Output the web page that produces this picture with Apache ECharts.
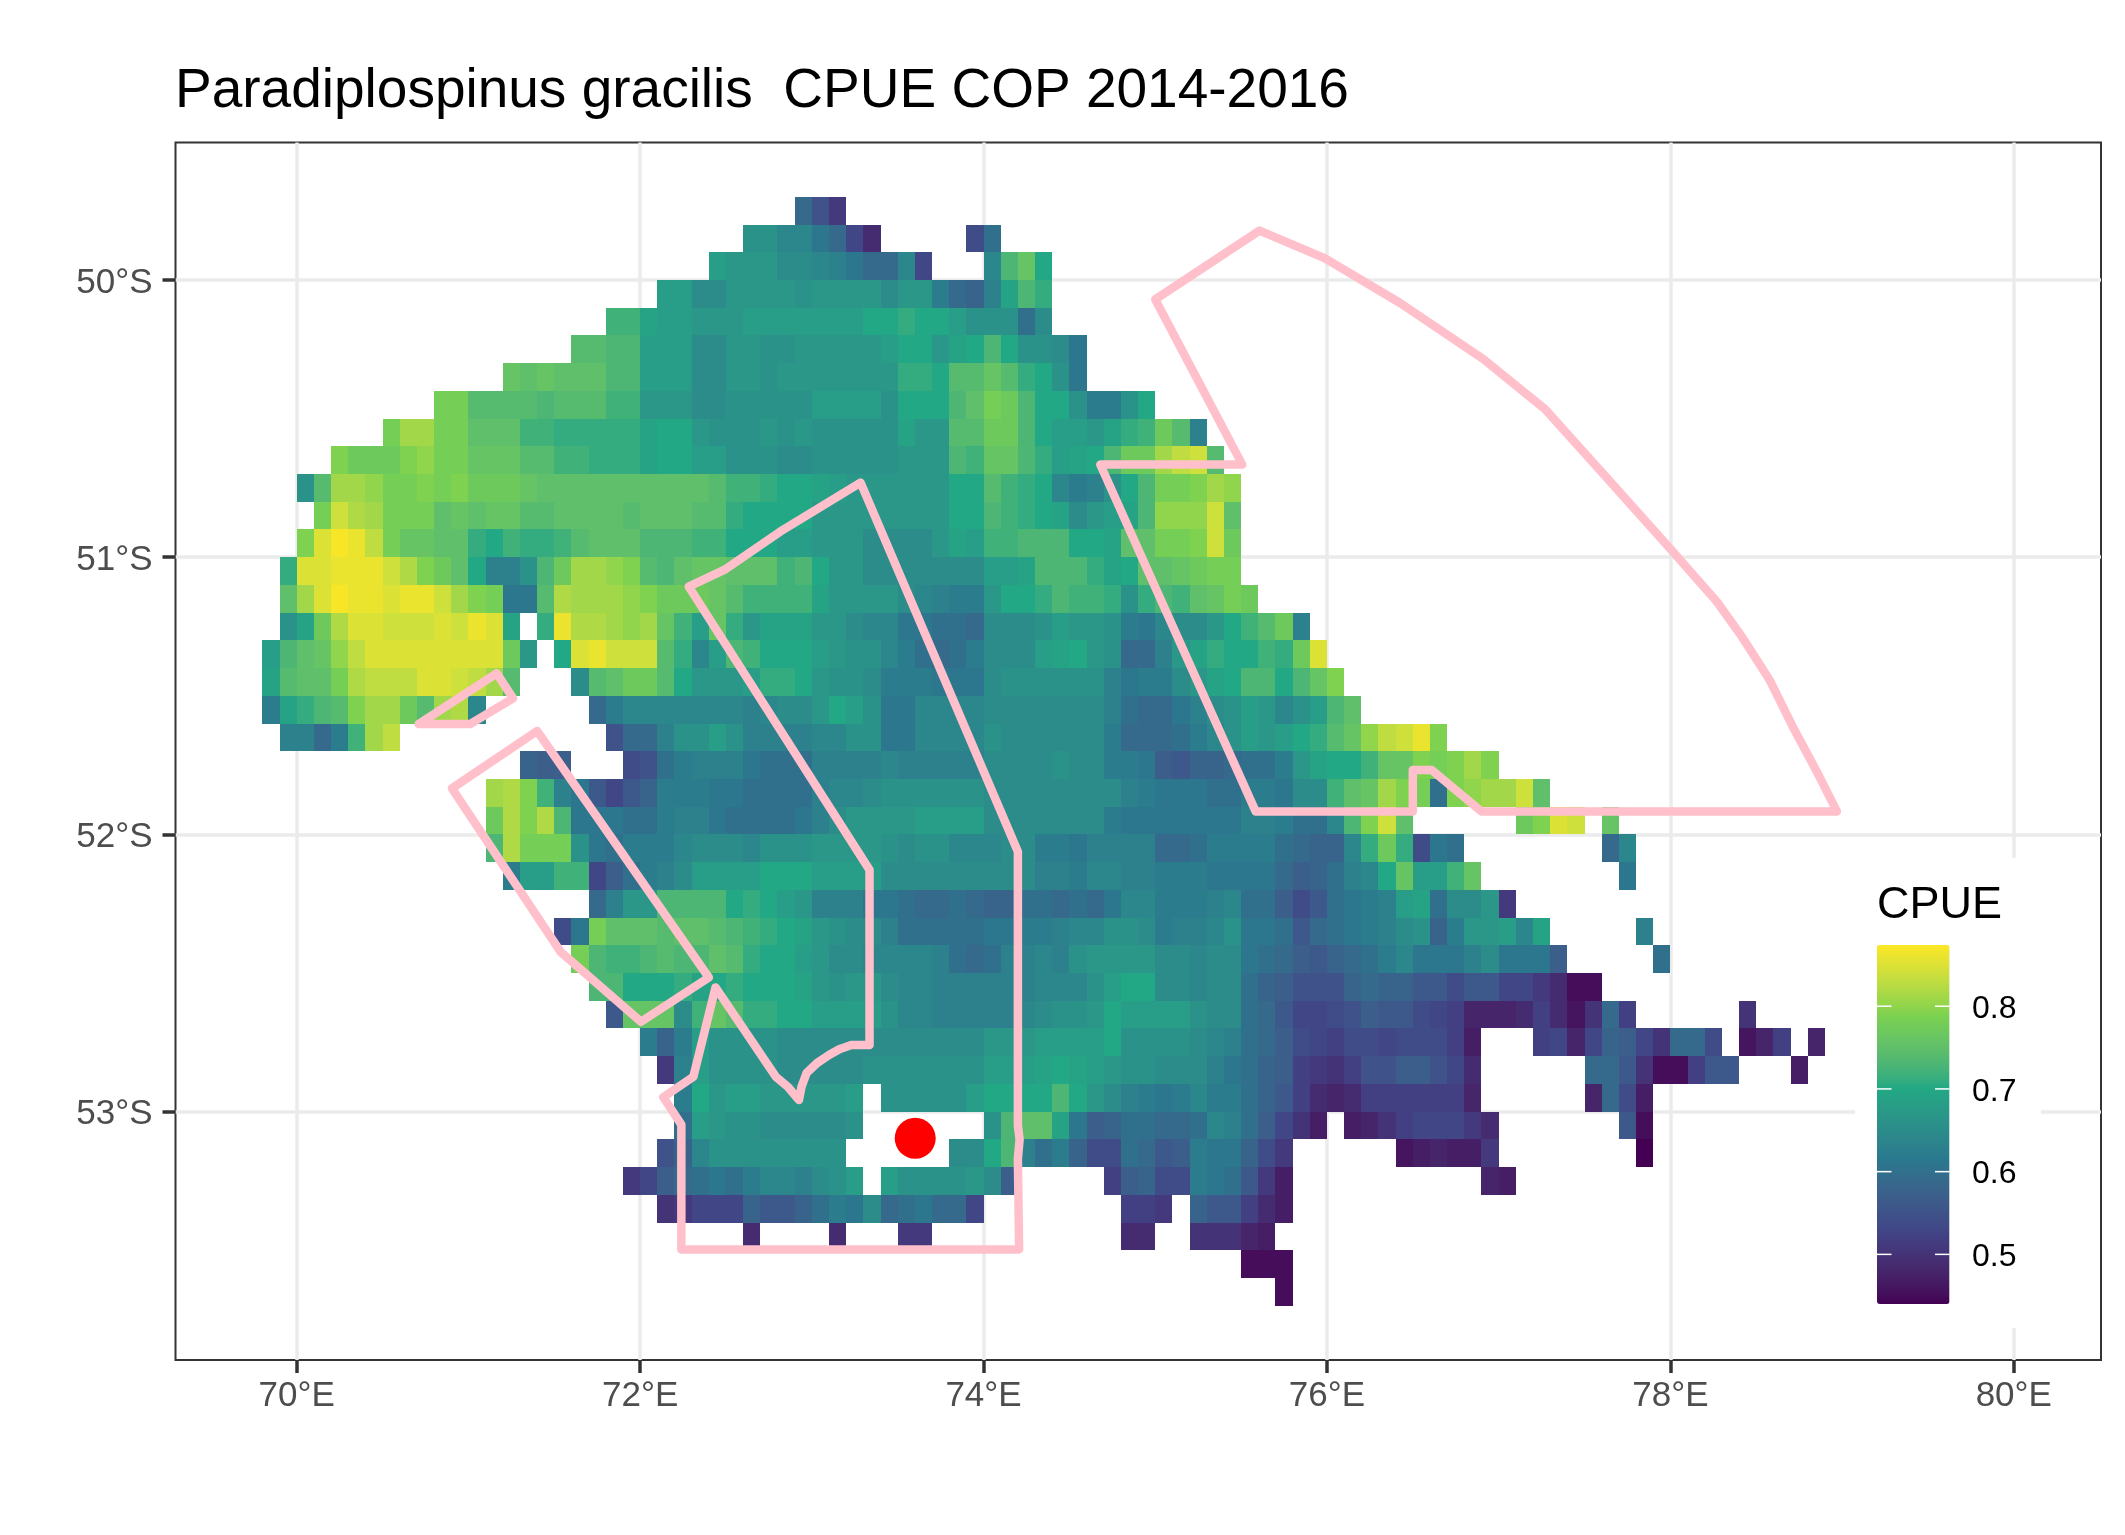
<!DOCTYPE html>
<html>
<head>
	<meta charset="utf-8">
	<title>CPUE COP 2014-2016</title>
	<style>
		html, body { margin: 0; background: #fff; }
		#chart1 { width: 2125px; height: 1535px; }
	</style>
</head>

<body>
	<div id="chart1"></div>

	<script src="https://cdn.jsdelivr.net/npm/echarts@6/dist/echarts.min.js"></script>
	<script>
	var _ = null;

	var lonOrigin = 69.8;
	var latOrigin = -49.7;
	var cellSize = 0.1;

	// first column of each row
	var rowStart = [31,28,26,23,20,18,14,10,7,4,2,3,2,1,1,1,0,0,0,1,15,13,13,13,14,19,17,18,19,20,22,23,24,24,23,21,23,28,57,59];

	// CPUE x 100, null where nothing was drawn
	var rowValues = [
		[59,55,51],
		[66,66,64,64,61,59,53,49,_,_,_,_,_,54,60],
		[68,67,67,67,65,65,64,63,61,59,59,64,53,_,_,_,64,73,76,70],
		[68,68,65,65,67,67,67,67,66,67,67,67,67,65,67,67,62,59,58,63,69,73,71],
		[72,72,69,68,68,67,67,67,68,68,68,68,68,68,68,70,70,71,70,70,68,66,66,66,60,65],
		[74,74,73,73,68,68,68,65,65,67,67,66,66,67,67,67,67,67,68,70,70,67,69,70,73,70,66,66,65,61],
		[76,75,76,75,75,75,73,73,68,68,68,65,65,67,67,66,67,67,67,67,67,67,67,71,71,70,74,74,76,74,71,70,66,61],
		[78,78,74,74,74,74,73,74,74,74,72,72,67,67,67,65,65,66,66,66,66,66,68,68,68,68,66,70,70,70,73,75,78,77,73,70,70,66,62,62,66,70],
		[78,81,81,78,78,75,75,75,72,72,71,71,71,71,71,69,70,70,67,66,66,66,67,66,67,66,66,66,66,66,69,67,67,74,74,77,77,73,70,68,68,67,69,71,72,77,74,63],
		[79,77,77,77,79,80,78,78,76,76,76,74,74,72,72,71,71,71,69,70,70,68,68,66,66,66,65,65,66,66,66,66,66,67,67,67,73,72,76,76,73,71,68,69,70,73,77,77,81,83,84,74],
		[66,74,81,81,80,78,78,79,78,79,77,77,77,76,75,75,75,75,75,75,75,75,75,75,74,72,72,71,70,70,69,68,67,67,67,67,67,67,70,70,74,72,71,70,64,62,63,66,70,73,78,78,79,81,80],
		[78,84,82,81,78,78,78,75,76,75,76,76,74,74,75,75,75,75,74,75,75,75,74,74,71,70,70,70,70,67,67,67,67,67,67,67,67,70,70,73,72,71,70,69,65,67,68,69,73,80,80,80,84,75],
		[79,85,87,86,83,78,76,76,75,75,71,70,72,71,71,72,74,75,75,75,73,73,73,72,72,70,70,70,68,68,67,67,67,65,65,65,65,67,69,68,72,72,73,73,73,70,70,69,75,75,78,78,79,84,77],
		[71,85,85,86,86,86,84,82,79,77,75,70,63,63,66,73,77,81,81,80,79,74,73,75,76,76,75,75,75,72,73,70,67,67,65,65,65,65,65,65,65,68,68,69,73,73,73,71,69,70,75,75,76,77,78,78],
		[75,81,85,87,86,86,85,86,86,84,81,79,78,61,61,74,82,81,81,81,80,79,77,77,77,76,74,72,72,72,72,69,67,67,67,67,65,64,63,62,62,67,70,70,71,73,72,72,71,66,71,73,72,75,76,78,77],
		[66,69,77,82,85,85,84,84,84,85,84,86,85,69,_,71,86,82,82,81,80,81,76,72,68,76,71,67,69,69,69,67,67,65,64,64,61,61,60,60,59,65,65,65,66,68,67,67,66,62,61,64,65,65,67,70,72,74,77,63],
		[68,73,75,76,80,83,85,85,85,85,85,85,85,85,77,67,_,70,85,86,84,84,84,74,71,64,68,73,72,70,70,70,68,67,66,66,64,62,60,59,60,62,65,65,65,68,69,70,67,66,59,59,63,67,69,71,70,70,72,71,77,85],
		[69,74,75,75,78,82,83,83,83,85,85,84,83,81,74,_,_,_,65,74,75,77,77,74,70,67,67,67,68,71,71,70,67,66,66,65,62,62,62,61,61,61,65,66,66,66,66,66,66,63,61,62,62,65,67,69,70,73,73,70,73,76,79],
		[62,69,71,73,74,79,81,81,77,74,81,82,64,_,_,_,_,_,_,59,62,64,64,64,64,64,64,64,63,64,65,65,67,70,68,66,61,61,64,64,64,64,65,65,65,65,65,65,65,63,60,59,59,61,63,65,66,68,67,64,66,68,73,75],
		[63,63,59,62,72,81,83,_,_,_,_,_,_,_,_,_,_,_,_,55,59,59,63,66,66,68,66,63,63,63,63,64,64,66,66,61,61,64,64,64,64,66,65,65,65,65,65,65,62,59,59,59,60,62,64,66,68,67,68,70,71,74,76,80,83,84,86,79],
		[58,57,57,_,_,_,54,55,60,62,63,63,63,61,60,60,60,63,63,63,63,64,63,63,63,63,63,65,65,65,65,66,65,65,62,62,61,57,56,58,58,59,60,60,62,67,69,70,70,72,76,76,79,78,79,81,79],
		[81,82,79,72,63,61,56,53,56,58,62,62,62,61,61,60,60,60,60,63,64,64,65,66,66,66,66,66,66,65,65,65,65,65,65,65,65,63,62,61,61,61,60,60,62,62,61,65,65,72,75,76,81,79,78,60,79,80,81,81,84,75],
		[77,82,79,82,73,61,61,61,60,60,62,63,63,61,60,60,60,60,61,63,65,67,67,67,67,68,68,68,68,65,65,65,65,65,65,65,62,61,61,61,61,61,61,61,63,63,62,60,60,64,73,79,84,75,_,_,_,_,_,_,77,79,85,84,_,76],
		[73,82,78,78,78,66,61,60,62,62,62,64,65,65,65,64,66,66,66,67,67,67,67,66,65,66,66,64,64,64,65,65,62,62,61,63,63,63,63,59,59,60,62,62,62,62,60,59,58,58,64,71,77,71,54,61,60,_,_,_,_,_,_,_,_,59,64],
		[62,68,68,72,72,53,57,60,62,63,65,68,68,68,68,70,70,70,68,68,68,68,65,65,65,65,65,65,65,65,65,63,63,62,64,64,63,63,62,62,62,61,61,61,61,59,57,58,60,63,64,70,76,68,68,72,76,_,_,_,_,_,_,_,_,61],
		[59,63,67,67,73,73,73,73,70,71,70,68,67,63,63,63,61,61,60,59,59,60,59,58,58,60,60,59,60,59,61,64,64,62,62,62,63,64,60,60,57,54,56,60,61,62,63,68,69,60,65,65,67,51],
		[54,61,78,75,75,75,74,75,75,74,73,72,71,70,69,67,66,65,65,63,60,60,60,60,60,61,61,62,62,63,64,64,66,66,65,62,63,63,64,66,61,61,60,56,59,60,61,62,63,65,66,58,62,67,67,68,64,69,_,_,_,_,_,63],
		[78,73,72,72,73,74,73,73,75,74,71,70,70,68,67,65,65,64,64,64,64,63,60,59,60,63,63,64,63,66,67,67,67,67,65,65,64,65,65,61,60,59,57,56,58,59,60,62,64,61,61,61,63,65,61,61,61,57,_,_,_,_,_,60],
		[73,73,70,70,70,71,69,70,71,70,70,70,69,67,66,67,67,65,64,64,63,63,63,63,63,63,64,64,64,66,68,70,70,65,65,64,65,65,60,58,57,55,55,55,58,59,58,58,56,56,54,56,56,53,53,51,49,45,45],
		[56,76,76,76,65,72,76,74,71,71,70,70,68,68,68,68,66,64,64,63,63,63,63,63,64,65,66,66,67,70,68,68,68,68,66,65,65,60,59,56,53,53,54,55,57,56,56,54,53,52,48,48,48,49,52,49,46,50,59,52,_,_,_,_,_,_,50],
		[62,58,62,68,66,66,66,66,65,65,65,65,65,65,65,65,65,65,65,65,67,67,67,68,68,68,68,70,66,66,66,66,65,64,63,60,59,57,54,53,52,54,54,53,54,54,54,52,47,_,_,_,52,53,48,53,58,57,53,50,59,59,54,_,46,48,52,_,48],
		[51,63,68,66,66,66,66,65,65,65,65,65,66,66,66,66,66,66,66,68,68,68,69,70,69,68,67,66,66,65,65,65,63,61,60,58,57,52,51,50,52,55,55,57,57,55,53,49,_,_,_,_,_,_,59,59,56,50,45,45,52,56,56,_,_,_,47],
		[62,70,67,68,68,67,67,67,67,67,68,_,66,66,66,66,66,68,70,70,70,70,73,70,67,65,63,62,61,62,64,62,62,60,58,56,52,49,48,49,52,52,52,52,52,52,48,_,_,_,_,_,_,48,59,54,47],
		[60,68,67,66,66,65,65,65,65,65,66,_,_,_,_,_,_,_,66,73,75,75,69,61,57,58,60,60,59,59,60,64,63,60,57,53,50,47,_,47,48,50,52,53,53,53,51,49,_,_,_,_,_,_,_,56,45],
		[55,58,64,66,66,66,66,66,66,66,66,_,_,_,_,_,_,65,65,70,73,63,60,62,58,54,54,60,59,56,57,62,61,61,58,54,51,_,_,_,_,_,_,46,47,48,47,47,51,_,_,_,_,_,_,_,_,43],
		[51,53,57,59,60,61,60,62,64,64,63,65,66,68,_,68,66,66,66,66,67,65,57,_,_,_,_,_,52,57,58,54,54,62,61,60,56,51,47,_,_,_,_,_,_,_,_,_,_,_,48,47],
		[50,51,53,53,53,58,56,56,58,60,62,61,65,59,60,61,59,59,53,_,_,_,_,_,_,_,_,52,52,51,_,58,56,56,52,49,47],
		[49,_,_,_,_,49,_,_,_,51,51,_,_,_,_,_,_,_,_,_,_,_,49,49,_,_,50,50,50,48,47],
		[45,45,45],
		[45]
	];

	// axis ticks
	var lonTicks = [70, 72, 74, 76, 78, 80];
	var latTicks = [-50, -51, -52, -53];

	// colour bar
	var legendTicks = [0.5, 0.6, 0.7, 0.8];
	var cpueMin = 0.44;
	var cpueMax = 0.874;
	var viridisStops = ['#440154', '#414487', '#2A788E', '#22A884', '#7AD151', '#FDE725'];

	// polygons, lon/lat
	var areaFan = [[75.0,-50.07],[75.607,-49.822],[75.989,-49.922],[76.426,-50.083],[76.91,-50.285],[77.27,-50.466],[77.625,-50.71],[78.0,-50.97],[78.27,-51.16],[78.42,-51.29],[78.58,-51.445],[78.72,-51.62],[78.85,-51.77],[78.97,-51.917],[76.9,-51.917],[76.61,-51.768],[76.5,-51.768],[76.5,-51.917],[75.585,-51.917],[74.68,-50.666],[75.507,-50.666],[75.0,-50.07]];
	var areaCentre = [[73.284,-50.731],[74.2,-52.062],[74.2,-53.05],[74.21,-53.1],[74.2,-53.17],[74.207,-53.497],[72.24,-53.497],[72.24,-53.047],[72.135,-52.948],[72.31,-52.874],[72.439,-52.552],[72.79,-52.874],[72.86,-52.91],[72.925,-52.958],[72.94,-52.91],[72.97,-52.86],[73.03,-52.825],[73.1,-52.796],[73.16,-52.775],[73.23,-52.76],[73.336,-52.76],[73.336,-52.128],[72.283,-51.106],[72.49,-51.046],[72.815,-50.908],[73.284,-50.731]];
	var areaWest = [[71.4,-51.627],[72.4,-52.516],[72.005,-52.676],[71.536,-52.423],[70.904,-51.834],[71.4,-51.627]];
	var areaSmall = [[71.165,-51.419],[71.26,-51.509],[71.009,-51.602],[70.71,-51.602],[71.165,-51.419]];
	var station = [[73.602, -53.096]];

	// ggplot mixes the viridis stops in Lab, so do the same for the palette
	function toLab(hex) {
		var c = [1, 3, 5].map(function(i) {
			var v = parseInt(hex.substr(i, 2), 16) / 255;
			return v > 0.04045 ? Math.pow((v + 0.055) / 1.055, 2.4) : v / 12.92;
		});
		var f = [
			(0.4124 * c[0] + 0.3576 * c[1] + 0.1805 * c[2]) / 0.95047,
			0.2126 * c[0] + 0.7152 * c[1] + 0.0722 * c[2],
			(0.0193 * c[0] + 0.1192 * c[1] + 0.9505 * c[2]) / 1.08883
		].map(function(t) {
			return t > 0.008856 ? Math.cbrt(t) : 7.787 * t + 16 / 116;
		});
		return [116 * f[1] - 16, 500 * (f[0] - f[1]), 200 * (f[1] - f[2])];
	}

	function fromLab(lab) {
		var y = (lab[0] + 16) / 116, x = lab[1] / 500 + y, z = y - lab[2] / 200;
		var t = [x, y, z].map(function(v) {
			return v > 0.2069 ? v * v * v : (v - 16 / 116) / 7.787;
		});
		var X = t[0] * 0.95047, Y = t[1], Z = t[2] * 1.08883;
		var rgb = [
			3.2406 * X - 1.5372 * Y - 0.4986 * Z,
			-0.9689 * X + 1.8758 * Y + 0.0415 * Z,
			0.0557 * X - 0.204 * Y + 1.057 * Z
		].map(function(v) {
			v = v > 0.0031308 ? 1.055 * Math.pow(v, 1 / 2.4) - 0.055 : 12.92 * v;
			return Math.max(0, Math.min(255, Math.round(v * 255)));
		});
		return 'rgb(' + rgb.join(',') + ')';
	}

	var palette = [];
	for (var s = 0; s < viridisStops.length - 1; s++) {
		var a = toLab(viridisStops[s]), b = toLab(viridisStops[s + 1]);
		for (var k = 0; k < 8; k++) {
			palette.push(fromLab([0, 1, 2].map(function(n) {
				return a[n] + (b[n] - a[n]) * k / 8;
			})));
		}
	}
	palette.push(viridisStops[viridisStops.length - 1]);

	var cells = [];
	rowValues.forEach(function(row, r) {
		row.forEach(function(v, c) {
			if (v !== null) {
				cells.push([lonOrigin + (rowStart[r] + c) * cellSize, latOrigin - r * cellSize, v / 100]);
			}
		});
	});

	function drawCell(params, api) {
		var p0 = api.coord([api.value(0), api.value(1)]);
		var p1 = api.coord([api.value(0) + cellSize, api.value(1) - cellSize]);
		var x0 = Math.round(p0[0]), y0 = Math.round(p0[1]);
		return {
			type: 'rect',
			shape: { x: x0, y: y0, width: Math.round(p1[0]) - x0, height: Math.round(p1[1]) - y0 },
			style: { fill: api.visual('color') }
		};
	}

	function areaSeries(points) {
		return {
			type: 'line',
			data: points,
			symbol: 'none',
			silent: true,
			z: 3,
			lineStyle: { color: '#FFC0CB', width: 8.5, cap: 'round', join: 'round' }
		};
	}

	var font = 'Liberation Sans';
	var barLeft = 1877, barTop = 945, barWidth = 72.5, barHeight = 359;

	// legend box, white ticks on the bar and its labels
	var legendGraphics = [
		{ type: 'rect', z: 1, shape: { x: 1855, y: 858, width: 186, height: 470 }, style: { fill: '#fff' } },
		{ type: 'text', z: 10, x: barLeft, y: 928, style: { text: 'CPUE', font: '45px "' + font + '"', fill: '#000', textVerticalAlign: 'bottom' } }
	];
	legendTicks.forEach(function(v) {
		var y = barTop + barHeight * (cpueMax - v) / (cpueMax - cpueMin);
		[[barLeft, barLeft + 14.5], [barLeft + barWidth - 14.5, barLeft + barWidth]].forEach(function(e) {
			legendGraphics.push({ type: 'line', z: 10, shape: { x1: e[0], y1: y, x2: e[1], y2: y }, style: { stroke: '#fff', lineWidth: 1.5 } });
		});
		legendGraphics.push({ type: 'text', z: 10, x: 1972, y: y + 3, style: { text: v.toFixed(1), font: '32px "' + font + '"', fill: '#000', textVerticalAlign: 'middle' } });
	});

	var myChart = echarts.init(document.getElementById('chart1'));

	var option = {
		animation: false,
		backgroundColor: '#fff',
		title: {
			text: 'Paradiplospinus gracilis  CPUE COP 2014-2016',
			left: 175,
			top: 64,
			padding: 0,
			textStyle: { fontFamily: font, fontSize: 55, fontWeight: 'normal', color: '#000' }
		},
		grid: {
			show: true,
			left: 175.5,
			top: 142.5,
			width: 1925.5,
			height: 1217.5,
			borderColor: '#333',
			borderWidth: 2,
			backgroundColor: '#fff'
		},
		xAxis: {
			type: 'value',
			min: 69.294,
			max: 80.508,
			axisLine: { show: false },
			axisTick: { show: true, customValues: lonTicks, length: 13, lineStyle: { color: '#333', width: 3.5 } },
			axisLabel: {
				customValues: lonTicks,
				margin: 19,
				fontFamily: font,
				fontSize: 35,
				color: '#4D4D4D',
				formatter: function(v) { return v + '°E'; }
			},
			splitLine: { show: true, lineStyle: { color: '#EBEBEB', width: 3.5 } }
		},
		yAxis: {
			type: 'value',
			min: -53.896,
			max: -49.504,
			axisLine: { show: false },
			axisTick: { show: true, customValues: latTicks, length: 13, lineStyle: { color: '#333', width: 3.5 } },
			axisLabel: {
				customValues: latTicks,
				margin: 23,
				verticalAlign: 'top',
				lineHeight: 6,
				fontFamily: font,
				fontSize: 35,
				color: '#4D4D4D',
				formatter: function(v) { return Math.abs(v) + '°S'; }
			},
			splitLine: { show: true, lineStyle: { color: '#EBEBEB', width: 3.5 } }
		},
		visualMap: {
			type: 'continuous',
			min: cpueMin,
			max: cpueMax,
			dimension: 2,
			seriesIndex: 0,
			left: barLeft,
			top: barTop,
			itemWidth: barWidth,
			itemHeight: barHeight,
			padding: 0,
			calculable: false,
			hoverLink: false,
			inRange: { color: palette }
		},
		graphic: legendGraphics,
		series: [
			{
				type: 'custom',
				data: cells,
				coordinateSystem: 'cartesian2d',
				encode: { x: 0, y: 1 },
				renderItem: drawCell,
				silent: true,
				z: 2
			},
			areaSeries(areaFan),
			areaSeries(areaCentre),
			areaSeries(areaWest),
			areaSeries(areaSmall),
			{
				type: 'scatter',
				data: station,
				symbol: 'circle',
				symbolSize: 41,
				silent: true,
				z: 4,
				itemStyle: { color: '#FF0000', opacity: 1 }
			}
		]
	};

	myChart.setOption(option);
	</script>
</body>

</html>
